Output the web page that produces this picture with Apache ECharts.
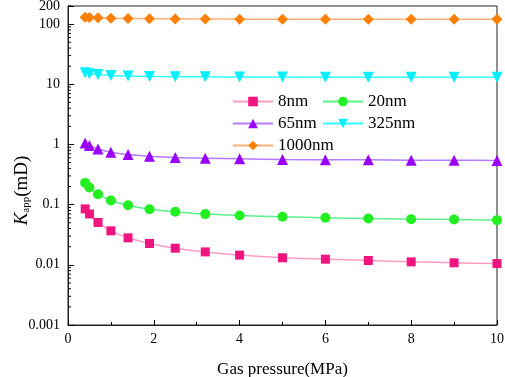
<!DOCTYPE html>
<html>
<head>
<meta charset="utf-8">
<script src="https://cdn.jsdelivr.net/npm/echarts@6/dist/echarts.min.js"></script>
<style>
  html, body { margin: 0; padding: 0; background: #fff; }
  #main { width: 505px; height: 377px; }
</style>
</head>
<body>
<div id="main"></div>
<script>
  // gas pressure (MPa)
  var pressure = [0.4, 0.5, 0.7, 1.0, 1.4, 1.9, 2.5, 3.2, 4, 5, 6, 7, 8, 9, 10];
  // apparent permeability (mD) for each pore size
  var k8 = [0.085, 0.070, 0.0506, 0.0367, 0.0281, 0.0226, 0.0189, 0.0164, 0.0145, 0.0131, 0.0124, 0.0118, 0.0112, 0.0108, 0.0105];
  var k20 = [0.230, 0.193, 0.149, 0.117, 0.098, 0.084, 0.076, 0.0696, 0.066, 0.0628, 0.0604, 0.059, 0.0574, 0.0567, 0.0553];
  var k65 = [1.06, 0.96, 0.84, 0.745, 0.682, 0.640, 0.608, 0.592, 0.578, 0.563, 0.556, 0.555, 0.548, 0.548, 0.542];
  var k325 = [15.5, 15.0, 14.5, 14.0, 13.7, 13.5, 13.4, 13.3, 13.2, 13.2, 13.1, 13.1, 13.1, 13.1, 13.1];
  var k1000 = [130, 129, 127, 125, 124, 123, 122, 122, 121, 121, 121, 120, 120, 120, 120];

  // log minor tick values on the y axis
  var yMinor = [];
  [0.001, 0.01, 0.1, 1, 10, 100].forEach(function (d) {
    for (var m = 2; m <= 9; m++) {
      if (d * m <= 200) yMinor.push(+(d * m).toPrecision(3));
    }
  });

  var font = 'Liberation Serif, Times New Roman, serif';

  function pairs(arr) {
    return pressure.map(function (x, i) { return [x, arr[i]]; });
  }

  function lineSeries(name, data, symbol, size, mark, line) {
    return {
      name: name,
      type: 'line',
      data: pairs(data),
      smooth: 0.3,
      symbol: symbol,
      symbolSize: size,
      itemStyle: { color: mark },
      lineStyle: { color: line, width: 1.5 },
      z: 3
    };
  }

  var chart = echarts.init(document.getElementById('main'));
  var option = {
    animation: false,
    backgroundColor: '#fff',
    textStyle: { fontFamily: font },
    grid: {
      left: 68, right: 8, top: 6, bottom: 52,
      outerBoundsMode: 'none',
      containLabel: false,
      show: true, borderColor: '#222', borderWidth: 1
    },
    legend: [{
      left: 232, top: 93, orient: 'vertical', padding: 0,
      itemWidth: 40, itemHeight: 12, itemGap: 5,
      textStyle: { fontFamily: font, fontSize: 17, color: '#000' },
      data: ['8nm', '65nm', '1000nm']
    }, {
      left: 322, top: 93, orient: 'vertical', padding: 0,
      itemWidth: 40, itemHeight: 12, itemGap: 5,
      textStyle: { fontFamily: font, fontSize: 17, color: '#000' },
      data: ['20nm', '325nm']
    }],
    xAxis: {
      type: 'value',
      min: 0, max: 10, interval: 2,
      name: 'Gas pressure(MPa)',
      nameLocation: 'middle',
      nameGap: 36,
      nameTextStyle: { fontFamily: font, fontSize: 17, color: '#000' },
      axisLine: { show: true, onZero: false, lineStyle: { color: '#222', width: 1 } },
      axisTick: { show: true, inside: true, length: 5, lineStyle: { color: '#000', width: 1 } },
      minorTick: { show: true, splitNumber: 2, length: 3, lineStyle: { color: '#000', width: 1 } },
      axisLabel: { fontFamily: font, fontSize: 14, color: '#000', margin: 7 },
      splitLine: { show: false }
    },
    yAxis: {
      type: 'log',
      logBase: 10,
      min: 0.001, max: 200,
      name: '{k|K}{s|app}{n|(mD)}',
      nameLocation: 'middle',
      nameGap: 36,
      nameMoveOverlap: false,
      nameTextStyle: {
        padding: [0, 50, 0, 0],
        rich: {
          k: { fontFamily: font, fontSize: 19, fontStyle: 'italic', color: '#000' },
          s: { fontFamily: font, fontSize: 11, color: '#000', verticalAlign: 'bottom', padding: [9, 0, 0, 0] },
          n: { fontFamily: font, fontSize: 19, color: '#000' }
        }
      },
      axisLine: { show: true, onZero: false, lineStyle: { color: '#222', width: 1 } },
      axisTick: { show: true, inside: true, length: 6, lineStyle: { color: '#000', width: 1 } },
      axisLabel: {
        fontFamily: font, fontSize: 14, color: '#000', margin: 8,
        formatter: function (v) { return String(v); }
      },
      splitLine: { show: false }
    },
    series: [
      lineSeries('8nm', k8, 'rect', 9, '#f0147f', '#ff9cc4'),
      lineSeries('20nm', k20, 'circle', 10, '#22ee22', '#5cf08c'),
      lineSeries('65nm', k65, 'triangle', 11, '#9900ff', '#b57aff'),
      lineSeries('325nm', k325, 'path://M0,0 L10,0 L5,9 Z', 11, '#00f0ff', '#33ffff'),
      lineSeries('1000nm', k1000, 'diamond', 11, '#ff8000', '#ffb07a'),
      {
        name: 'minor',
        type: 'custom',
        silent: true,
        clip: false,
        z: 10,
        data: yMinor.map(function (v) { return [0, v]; }),
        renderItem: function (params, api) {
          var p = api.coord([0, api.value(1)]);
          return {
            type: 'line',
            shape: { x1: p[0], y1: p[1], x2: p[0] + 3, y2: p[1] },
            style: { stroke: '#000', lineWidth: 1 }
          };
        }
      }
    ]
  };
  chart.setOption(option);
</script>
</body>
</html>
